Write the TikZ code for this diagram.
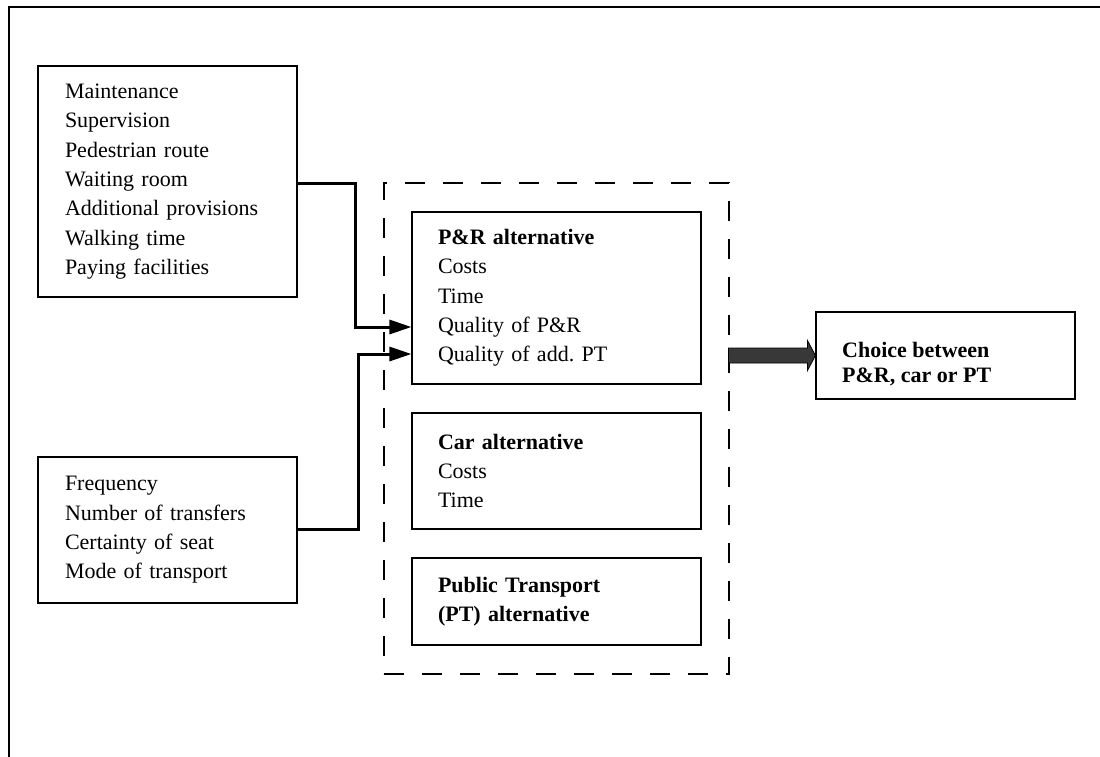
\documentclass[tikz,border=0pt]{standalone}
\usepackage{fontspec}
\setmainfont{Liberation Serif}
\usetikzlibrary{arrows.meta,calc}
\frenchspacing
\begin{document}
\begin{tikzpicture}[x=1pt,y=-1pt,
  every node/.style={font=\fontsize{22}{29.3}\selectfont},
  box/.style={draw, line width=1.1pt, rectangle, inner sep=0pt},
  listbox/.style={box, align=left, text width=#1},
  groupbox/.style={draw, line width=1.1pt, dash pattern=on 20pt off 18pt, rectangle, inner sep=0pt},
  conn/.style={line width=3pt, -{Triangle[length=22pt,width=14pt]}},
  fat/.style={fill=black!78, draw=black, line width=0.8pt, line join=miter}
]
\useasboundingbox (0,0) rectangle (1100,756);
\draw[line width=1.2pt] (9,7) rectangle (1130,790);

\node[listbox=205pt, minimum width=259pt, minimum height=231pt] (fac) at (167.5,181.5)
  {Maintenance\\Supervision\\Pedestrian route\\Waiting room\\Additional provisions\\Walking time\\Paying facilities};
\node[listbox=205pt, minimum width=259pt, minimum height=146pt] (pt) at (167.5,530)
  {Frequency\\Number of transfers\\Certainty of seat\\Mode of transport};

\node[groupbox, minimum width=345pt, minimum height=491pt] (grp) at (556.5,428.5) {};
\node[listbox=237pt, minimum width=289pt, minimum height=172pt] (pr) at (556.5,298)
  {\textbf{P\&R alternative}\\Costs\\Time\\Quality of P\&R\\Quality of add.\ PT};
\node[listbox=237pt, minimum width=289pt, minimum height=116pt] (car) at (556.5,471)
  {\textbf{Car alternative}\\Costs\\Time};
\node[listbox=237pt, minimum width=289pt, minimum height=87pt] (ptalt) at (556.5,601.5)
  {\textbf{Public Transport}\\\textbf{(PT) alternative}};

\node[box, minimum width=259pt, minimum height=87pt] (choice) at (945.5,355.5) {};
\node[anchor=west, align=left, inner sep=0pt, font=\fontsize{22}{25}\selectfont\bfseries] (choicetxt) at (842,364.5)
  {Choice between\\P\&R, car or PT};

\coordinate (k1) at (355,183);
\coordinate (k2) at (358,529);
\draw[conn] ($(fac.east)+(0,1.5)$) -- (k1) |- ($(pr.west)+(0,29)$);
\draw[conn] ($(pt.east)+(0,-1)$) -- (k2) |- ($(pr.west)+(0,56)$);

\filldraw[fat] ($(choice.west)+(-87,-7.5)$) -- ($(choice.west)+(-8,-7.5)$) -- ($(choice.west)+(-8,-15)$)
  -- (choice.west) -- ($(choice.west)+(-8,15)$) -- ($(choice.west)+(-8,7.5)$) -- ($(choice.west)+(-87,7.5)$) -- cycle;
\end{tikzpicture}
\end{document}
